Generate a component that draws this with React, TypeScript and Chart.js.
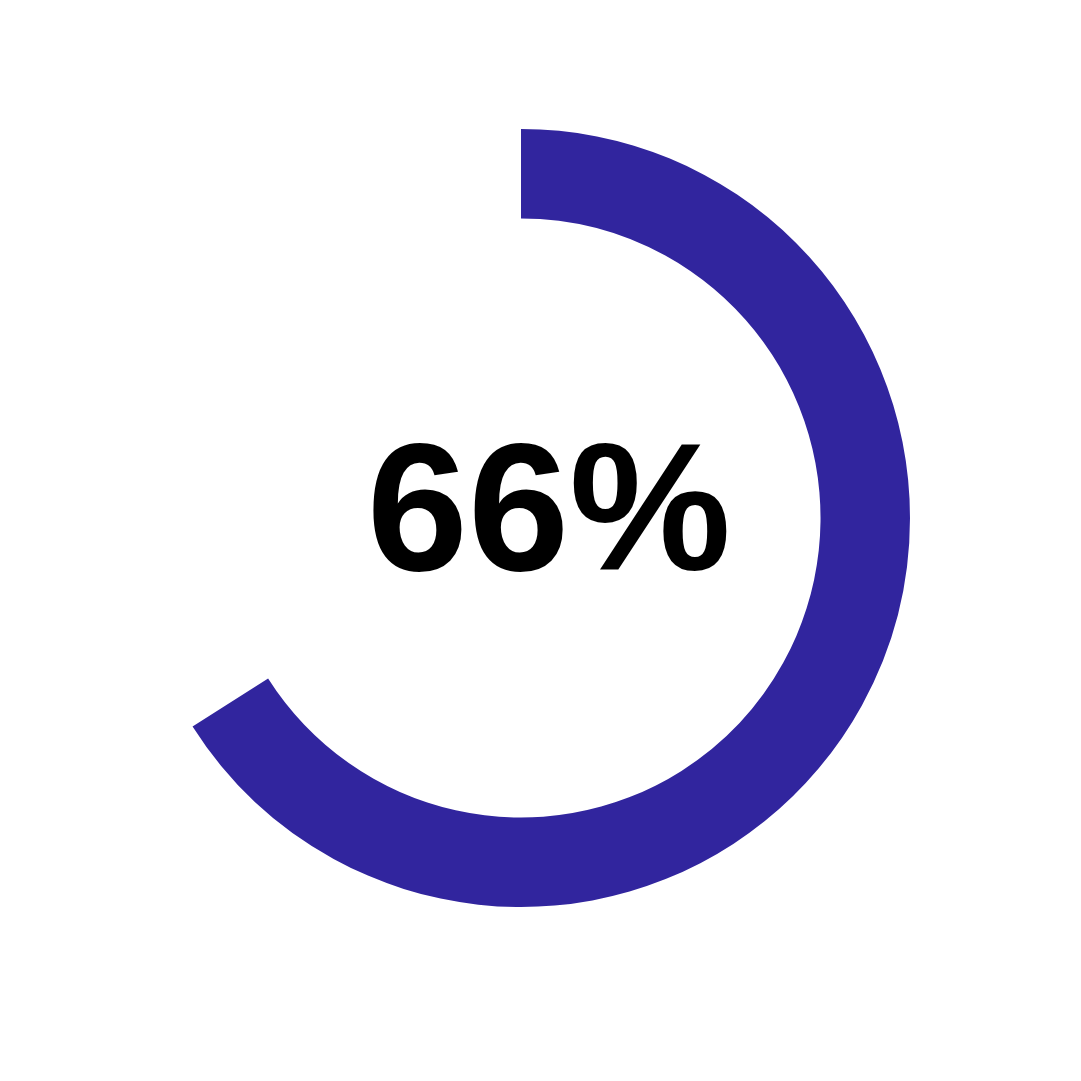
import { useEffect, useRef } from "react";
import { Chart, DoughnutController, ArcElement, type ChartItem } from "chart.js";

Chart.register(DoughnutController, ArcElement);

/* share shown by the ring and the remainder left blank */
const LABELS = ["Done", "Rest"];
const VALUES = [66, 34];
const COLORS = ["#31259e", "rgba(0,0,0,0)"];
const CENTER_TEXT = "66%";

export default function App() {
  const canvasRef = useRef<HTMLCanvasElement>(null);
  const chartRef = useRef<Chart | null>(null);

  useEffect(() => {
    document.body.style.margin = "0";
    if (!canvasRef.current) return;
    chartRef.current?.destroy();

    const ctx = canvasRef.current.getContext("2d") as ChartItem;

    chartRef.current = new Chart(ctx, {
      type: "doughnut",
      data: {
        labels: LABELS,
        datasets: [
          {
            data: VALUES,
            backgroundColor: COLORS,
            borderWidth: 0,
          },
        ],
      },
      options: {
        responsive: false,
        animation: false,
        cutout: "77%",
        rotation: 0,
        layout: { padding: 0 },
        plugins: {
          legend: { display: false },
          tooltip: { enabled: false },
        },
      },
    });

    return () => {
      chartRef.current?.destroy();
      chartRef.current = null;
    };
  }, []);

  return (
    <div style={{ position: "relative", width: 1081, height: 1081, background: "#fff" }}>
      <canvas
        ref={canvasRef}
        width={778}
        height={778}
        style={{ position: "absolute", left: 132, top: 129, width: 778, height: 778 }}
      />
      <div
        style={{
          position: "absolute",
          left: 549,
          top: 507,
          transform: "translate(-50%, -50%)",
          fontFamily: "'Liberation Sans', Arial, sans-serif",
          fontWeight: 700,
          fontSize: 182,
          lineHeight: 1,
          color: "#000",
          whiteSpace: "nowrap",
        }}
      >
        {CENTER_TEXT}
      </div>
    </div>
  );
}
